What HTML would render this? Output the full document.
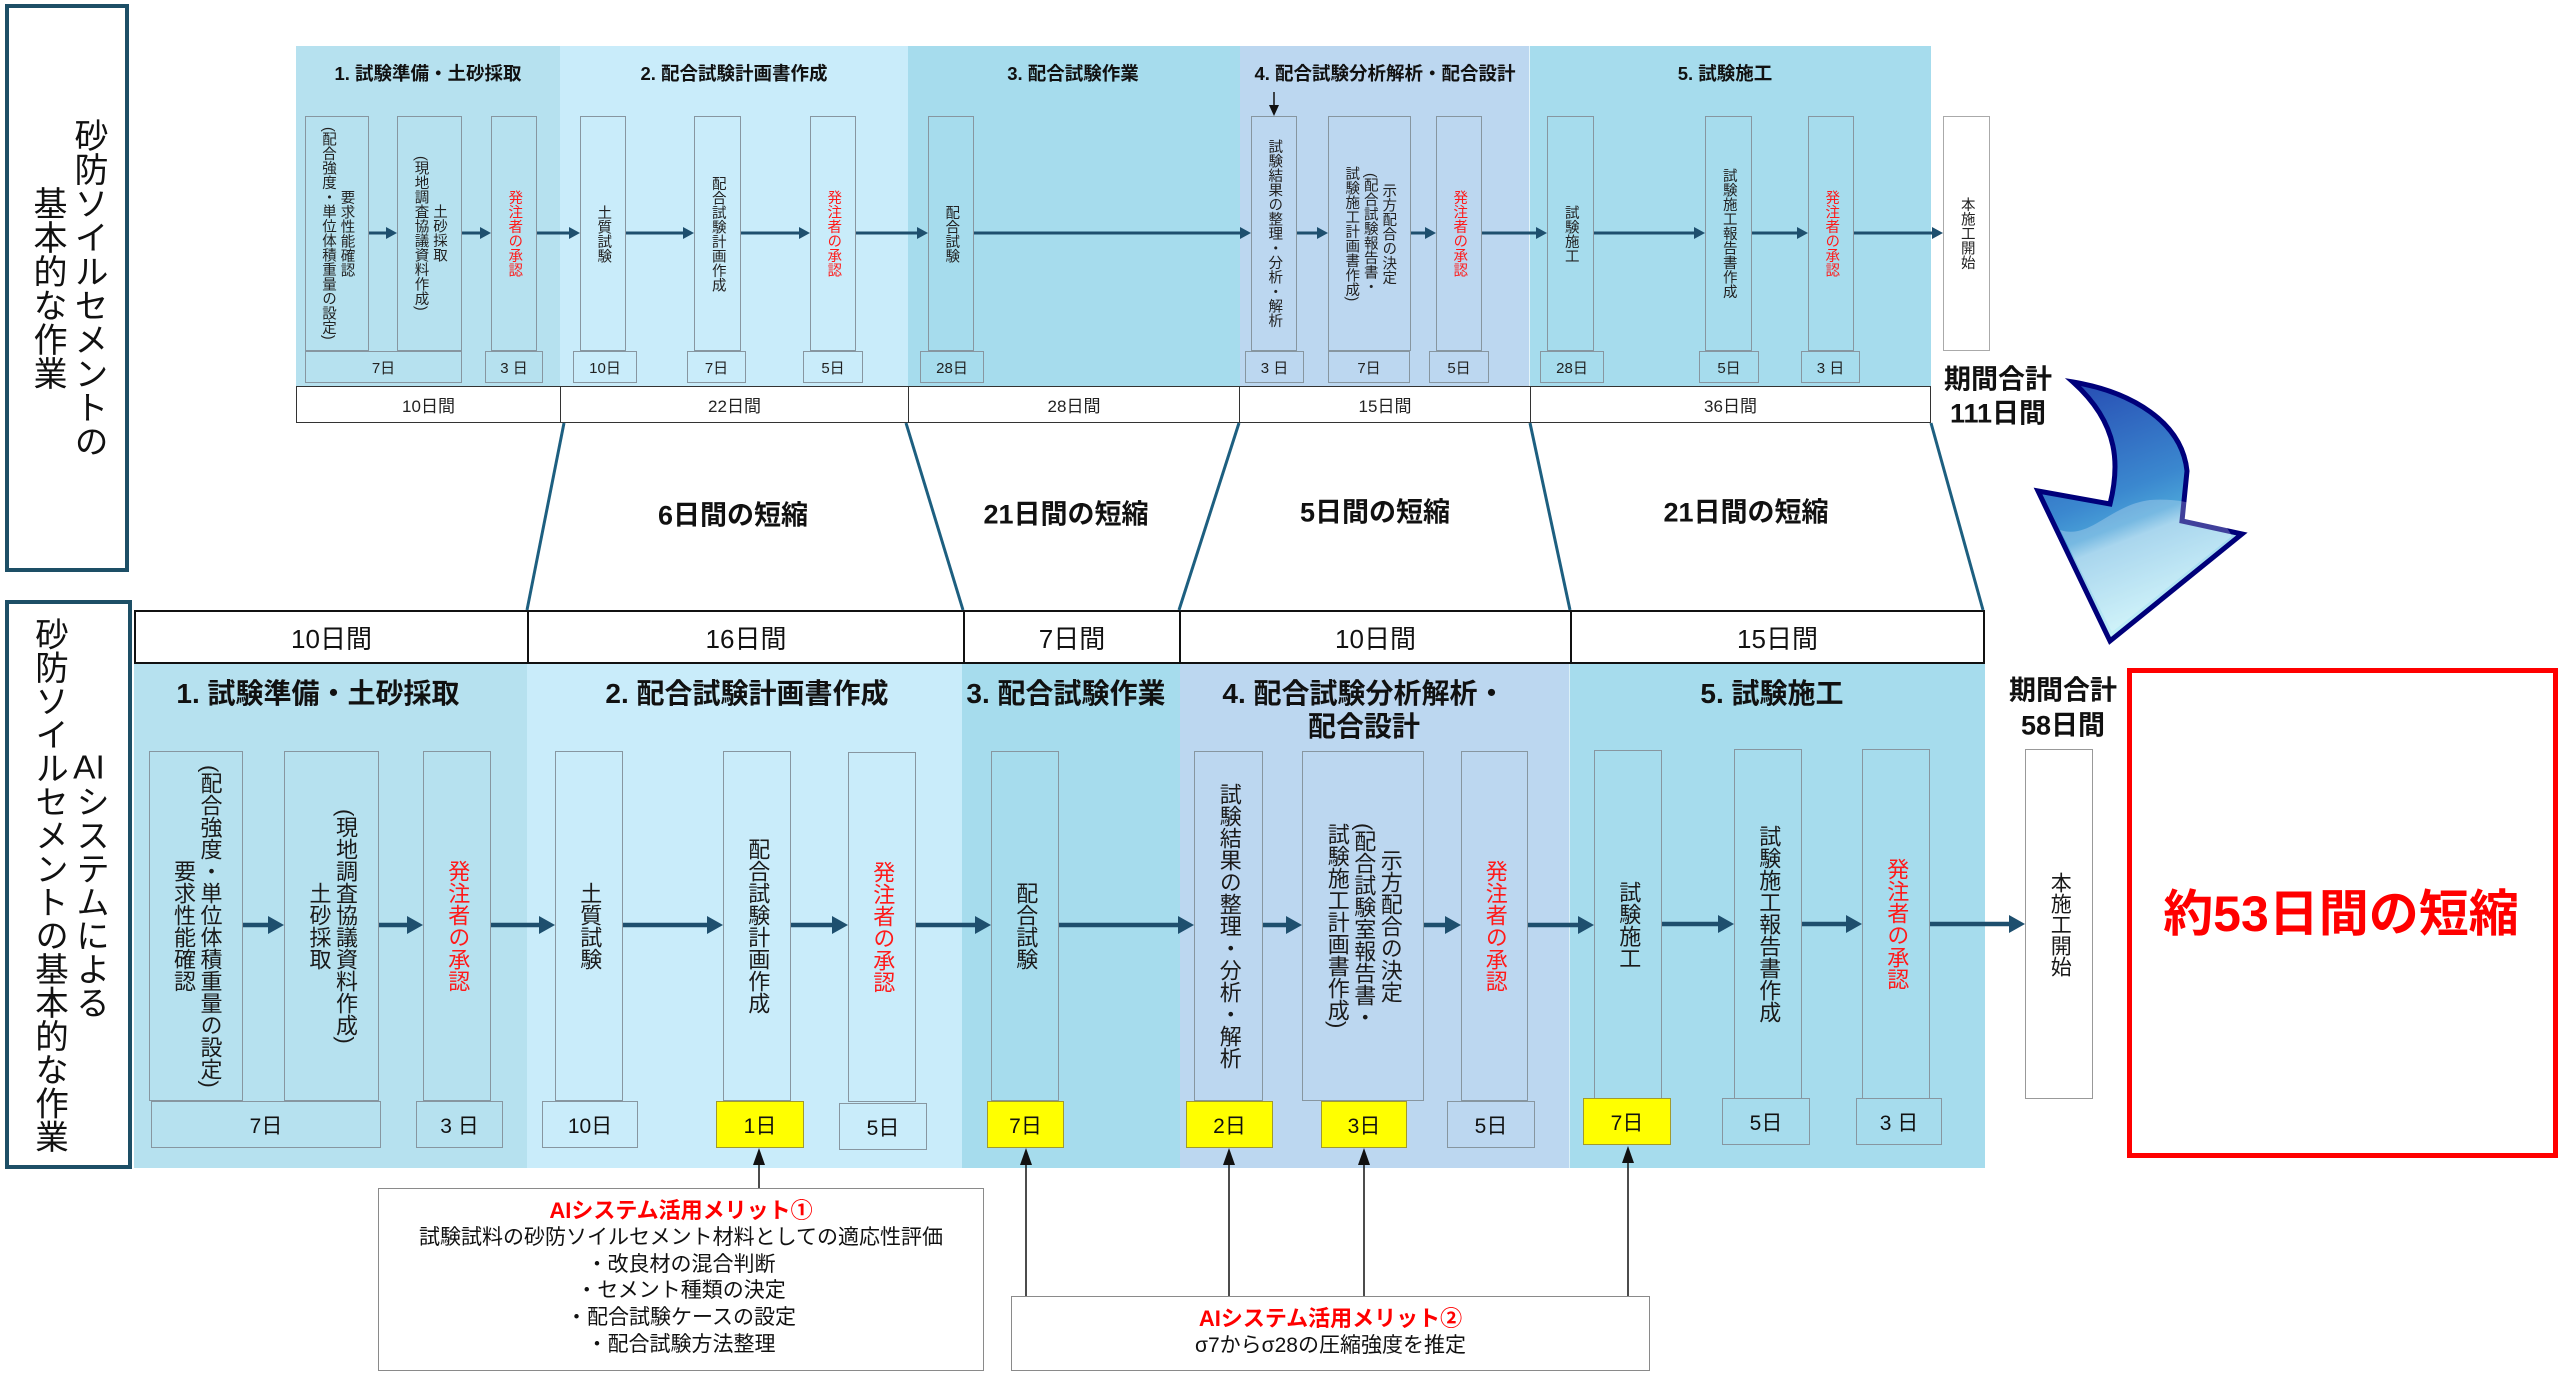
<!DOCTYPE html>
<html lang="ja">
<head>
<meta charset="utf-8">
<style>
*{margin:0;padding:0;box-sizing:border-box}
html,body{width:2560px;height:1375px;overflow:hidden;background:#fff}
body{position:relative;font-family:"Liberation Sans","Noto Sans CJK JP",sans-serif;color:#111}
.a{position:absolute}
.bx{position:absolute;border:1px solid #8796a0;display:flex;align-items:center;justify-content:center}
.v{writing-mode:vertical-rl;text-align:center;white-space:nowrap}
.tv{font-size:14.5px;line-height:18.5px;color:#222}
.bv{font-size:22px;line-height:26.5px;color:#1a1a1a}
.r{color:#ff1a1a}
.dt{position:absolute;top:351px;height:32px;border:1px solid #8796a0;display:flex;align-items:center;justify-content:center;font-size:15px;color:#222}
.db{position:absolute;top:1101px;height:47px;border:1.5px solid #8796a0;display:flex;align-items:center;justify-content:center;font-size:21px;color:#111}
.y{background:#ffff00;border-color:#a09a30}
.ct{position:absolute;transform:translate(-50%,-50%);white-space:nowrap;font-weight:bold}
.tt{position:absolute;top:386px;height:37px;border:1px solid #333;background:#fff;display:flex;align-items:center;justify-content:center;font-size:17px;color:#222}
.bt{position:absolute;top:610px;height:54px;border:2px solid #111;background:#fff;display:flex;align-items:center;justify-content:center;font-size:26px;color:#111}
.lbl{position:absolute;border:4px solid #1d4f66;background:#fff;display:flex;align-items:center;justify-content:center}
.lv{writing-mode:vertical-rl;text-align:center;white-space:nowrap;font-size:34px;line-height:41px;color:#111}
</style>
</head>
<body>

<!-- Left labels -->
<div class="lbl" style="left:5px;top:4px;width:124px;height:568px"><div class="lv">砂防ソイルセメントの<br>基本的な作業</div></div>
<div class="lbl" style="left:5px;top:600px;width:127px;height:569px"><div class="lv" style="font-size:33.5px"><span style="text-combine-upright:all">AI</span>システムによる<br>砂防ソイルセメントの基本的な作業</div></div>

<!-- Top band -->
<div class="a" style="left:296px;top:46px;width:264px;height:340px;background:#b6e1ef"></div>
<div class="a" style="left:560px;top:46px;width:348px;height:340px;background:#c9ecfa"></div>
<div class="a" style="left:908px;top:46px;width:332px;height:340px;background:#a6dced"></div>
<div class="a" style="left:1240px;top:46px;width:289px;height:340px;background:#bcd7f0"></div>
<div class="a" style="left:1529px;top:46px;width:402px;height:340px;background:#a6dced;border-left:1px solid rgba(255,255,255,.7)"></div>

<div class="ct" style="left:428px;top:73px;font-size:18.5px">1. 試験準備・土砂採取</div>
<div class="ct" style="left:734px;top:73px;font-size:18.5px">2. 配合試験計画書作成</div>
<div class="ct" style="left:1073px;top:73px;font-size:18.5px">3. 配合試験作業</div>
<div class="ct" style="left:1385px;top:73px;font-size:18.5px">4. 配合試験分析解析・配合設計</div>
<div class="ct" style="left:1725px;top:73px;font-size:18.5px">5. 試験施工</div>

<!-- Top boxes -->
<div class="bx" style="left:305px;top:116px;width:64px;height:235px"><div class="v tv">要求性能確認<br>(配合強度・単位体積重量の設定)</div></div>
<div class="bx" style="left:397px;top:116px;width:65px;height:235px"><div class="v tv">土砂採取<br>(現地調査協議資料作成)</div></div>
<div class="bx" style="left:491px;top:116px;width:46px;height:235px"><div class="v tv r">発注者の承認</div></div>
<div class="bx" style="left:580px;top:116px;width:46px;height:235px"><div class="v tv">土質試験</div></div>
<div class="bx" style="left:694px;top:116px;width:47px;height:235px"><div class="v tv">配合試験計画作成</div></div>
<div class="bx" style="left:810px;top:116px;width:46px;height:235px"><div class="v tv r">発注者の承認</div></div>
<div class="bx" style="left:928px;top:116px;width:46px;height:235px"><div class="v tv">配合試験</div></div>
<div class="bx" style="left:1251px;top:116px;width:46px;height:235px"><div class="v tv">試験結果の整理・分析・解析</div></div>
<div class="bx" style="left:1328px;top:116px;width:83px;height:235px"><div class="v tv">示方配合の決定<br>(配合試験報告書・<br>試験施工計画書作成)</div></div>
<div class="bx" style="left:1436px;top:116px;width:46px;height:235px"><div class="v tv r">発注者の承認</div></div>
<div class="bx" style="left:1547px;top:116px;width:47px;height:235px"><div class="v tv">試験施工</div></div>
<div class="bx" style="left:1705px;top:116px;width:47px;height:235px"><div class="v tv">試験施工報告書作成</div></div>
<div class="bx" style="left:1808px;top:116px;width:46px;height:235px"><div class="v tv r">発注者の承認</div></div>
<div class="bx" style="left:1943px;top:116px;width:47px;height:235px;background:#fff;border-color:#aaa"><div class="v tv">本施工開始</div></div>

<!-- Top day boxes -->
<div class="dt" style="left:305px;width:157px">7日</div>
<div class="dt" style="left:485px;width:58px">3 日</div>
<div class="dt" style="left:573px;width:64px">10日</div>
<div class="dt" style="left:687px;width:59px">7日</div>
<div class="dt" style="left:803px;width:60px">5日</div>
<div class="dt" style="left:920px;width:64px">28日</div>
<div class="dt" style="left:1245px;width:59px">3 日</div>
<div class="dt" style="left:1328px;width:82px">7日</div>
<div class="dt" style="left:1429px;width:60px">5日</div>
<div class="dt" style="left:1540px;width:64px">28日</div>
<div class="dt" style="left:1699px;width:60px">5日</div>
<div class="dt" style="left:1801px;width:59px">3 日</div>

<!-- Top totals -->
<div class="tt" style="left:296px;width:265px">10日間</div>
<div class="tt" style="left:560px;width:349px">22日間</div>
<div class="tt" style="left:908px;width:332px">28日間</div>
<div class="tt" style="left:1239px;width:292px">15日間</div>
<div class="tt" style="left:1530px;width:401px">36日間</div>

<div class="ct" style="left:1998px;top:377px;font-size:27px">期間合計</div>
<div class="ct" style="left:1998px;top:411px;font-size:27px">111日間</div>

<!-- Reduction labels -->
<div class="ct" style="left:733px;top:513px;font-size:27px">6日間の短縮</div>
<div class="ct" style="left:1066px;top:512px;font-size:27px">21日間の短縮</div>
<div class="ct" style="left:1375px;top:510px;font-size:27px">5日間の短縮</div>
<div class="ct" style="left:1746px;top:510px;font-size:27px">21日間の短縮</div>

<!-- Bottom totals -->
<div class="bt" style="left:134px;width:395px">10日間</div>
<div class="bt" style="left:527px;width:438px">16日間</div>
<div class="bt" style="left:963px;width:218px">7日間</div>
<div class="bt" style="left:1179px;width:393px">10日間</div>
<div class="bt" style="left:1570px;width:415px">15日間</div>

<!-- Bottom band -->
<div class="a" style="left:134px;top:664px;width:393px;height:504px;background:#b6e1ef"></div>
<div class="a" style="left:527px;top:664px;width:435px;height:504px;background:#c9ecfa"></div>
<div class="a" style="left:962px;top:664px;width:218px;height:504px;background:#a6dced"></div>
<div class="a" style="left:1180px;top:664px;width:389px;height:504px;background:#bcd7f0"></div>
<div class="a" style="left:1569px;top:664px;width:416px;height:504px;background:#a6dced;border-left:1px solid rgba(255,255,255,.6)"></div>

<div class="ct" style="left:318px;top:692px;font-size:28px">1. 試験準備・土砂採取</div>
<div class="ct" style="left:747px;top:692px;font-size:28px">2. 配合試験計画書作成</div>
<div class="ct" style="left:1066px;top:692px;font-size:28px">3. 配合試験作業</div>
<div class="ct" style="left:1364px;top:692px;font-size:28px">4. 配合試験分析解析・</div>
<div class="ct" style="left:1364px;top:725px;font-size:28px">配合設計</div>
<div class="ct" style="left:1772px;top:692px;font-size:28px">5. 試験施工</div>

<!-- Bottom boxes -->
<div class="bx" style="left:149px;top:751px;width:94px;height:350px"><div class="v bv">(配合強度・単位体積重量の設定)<br>要求性能確認</div></div>
<div class="bx" style="left:284px;top:751px;width:95px;height:350px"><div class="v bv">(現地調査協議資料作成)<br>土砂採取</div></div>
<div class="bx" style="left:423px;top:751px;width:68px;height:350px"><div class="v bv r">発注者の承認</div></div>
<div class="bx" style="left:555px;top:751px;width:68px;height:350px"><div class="v bv">土質試験</div></div>
<div class="bx" style="left:723px;top:751px;width:68px;height:350px"><div class="v bv">配合試験計画作成</div></div>
<div class="bx" style="left:848px;top:752px;width:68px;height:350px"><div class="v bv r">発注者の承認</div></div>
<div class="bx" style="left:991px;top:751px;width:68px;height:350px"><div class="v bv">配合試験</div></div>
<div class="bx" style="left:1194px;top:751px;width:69px;height:350px"><div class="v bv">試験結果の整理・分析・解析</div></div>
<div class="bx" style="left:1302px;top:751px;width:122px;height:350px"><div class="v bv">示方配合の決定<br>(配合試験室報告書・<br>試験施工計画書作成)</div></div>
<div class="bx" style="left:1461px;top:751px;width:67px;height:350px"><div class="v bv r">発注者の承認</div></div>
<div class="bx" style="left:1594px;top:750px;width:68px;height:349px"><div class="v bv">試験施工</div></div>
<div class="bx" style="left:1734px;top:749px;width:68px;height:350px"><div class="v bv">試験施工報告書作成</div></div>
<div class="bx" style="left:1862px;top:749px;width:68px;height:350px"><div class="v bv r">発注者の承認</div></div>
<div class="bx" style="left:2025px;top:749px;width:68px;height:350px;background:#fff;border-color:#999"><div class="v bv" style="font-size:21px">本施工開始</div></div>

<!-- Bottom day boxes -->
<div class="db" style="left:151px;width:230px">7日</div>
<div class="db" style="left:416px;width:87px">3 日</div>
<div class="db" style="left:542px;width:96px">10日</div>
<div class="db y" style="left:716px;width:88px">1日</div>
<div class="db" style="left:839px;width:88px;top:1103px">5日</div>
<div class="db y" style="left:987px;width:77px">7日</div>
<div class="db y" style="left:1186px;width:87px">2日</div>
<div class="db y" style="left:1321px;width:86px">3日</div>
<div class="db" style="left:1447px;width:88px">5日</div>
<div class="db y" style="left:1583px;width:88px;top:1098px">7日</div>
<div class="db" style="left:1722px;width:88px;top:1098px">5日</div>
<div class="db" style="left:1856px;width:86px;top:1098px">3 日</div>

<div class="ct" style="left:2063px;top:688px;font-size:27px">期間合計</div>
<div class="ct" style="left:2063px;top:723px;font-size:27px">58日間</div>

<!-- Red result box -->
<div class="a" style="left:2127px;top:668px;width:431px;height:490px;border:5px solid #ff0000;background:#fff"></div>
<div class="ct" style="left:2341px;top:910px;font-size:50px;color:#ff0000">約53日間の短縮</div>

<!-- Callouts -->
<div class="a" style="left:378px;top:1188px;width:606px;height:183px;border:1.5px solid #8a8a8a;background:#fff;text-align:center;font-size:21px;line-height:26.8px;padding-top:9px;color:#111">
<div style="color:#ff0000;font-weight:bold;font-size:22px">AIシステム活用メリット①</div>
<div>試験試料の砂防ソイルセメント材料としての適応性評価</div>
<div>・改良材の混合判断</div>
<div>・セメント種類の決定</div>
<div>・配合試験ケースの設定</div>
<div>・配合試験方法整理</div>
</div>
<div class="a" style="left:1011px;top:1296px;width:639px;height:75px;border:1.5px solid #8a8a8a;background:#fff;text-align:center;font-size:21px;line-height:27px;padding-top:8px;color:#111">
<div style="color:#ff0000;font-weight:bold;font-size:22px">AIシステム活用メリット②</div>
<div>σ7からσ28の圧縮強度を推定</div>
</div>

<!-- Lines and arrows -->
<svg class="a" style="left:0;top:0" width="2560" height="1375" viewBox="0 0 2560 1375">
<defs>
<linearGradient id="bg" x1="0" y1="0" x2="0.3" y2="1">
<stop offset="0" stop-color="#2546b0"/>
<stop offset="0.5" stop-color="#3b88cf"/>
<stop offset="0.62" stop-color="#4aa2d8"/>
<stop offset="0.68" stop-color="#8cc8e8"/>
<stop offset="1" stop-color="#c2f0f8"/>
</linearGradient>
</defs>
<g stroke="#1d5f80" stroke-width="3" fill="none">
<line x1="564" y1="423" x2="527" y2="610"/>
<line x1="906" y1="423" x2="963" y2="610"/>
<line x1="1239" y1="423" x2="1179" y2="610"/>
<line x1="1530" y1="423" x2="1570" y2="610"/>
<line x1="1931" y1="423" x2="1983" y2="610"/>
</g>
<g stroke="#1e4f6e" stroke-width="3">
<line x1="369" y1="233" x2="388" y2="233"/>
<line x1="462" y1="233" x2="482" y2="233"/>
<line x1="537" y1="233" x2="571" y2="233"/>
<line x1="626" y1="233" x2="685" y2="233"/>
<line x1="741" y1="233" x2="801" y2="233"/>
<line x1="856" y1="233" x2="919" y2="233"/>
<line x1="974" y1="233" x2="1242" y2="233"/>
<line x1="1297" y1="233" x2="1319" y2="233"/>
<line x1="1411" y1="233" x2="1427" y2="233"/>
<line x1="1482" y1="233" x2="1538" y2="233"/>
<line x1="1594" y1="233" x2="1696" y2="233"/>
<line x1="1752" y1="233" x2="1799" y2="233"/>
<line x1="1854" y1="233" x2="1934" y2="233"/>
</g>
<g fill="#1e4f6e">
<polygon points="397,233 386,227 386,239"/>
<polygon points="491,233 480,227 480,239"/>
<polygon points="580,233 569,227 569,239"/>
<polygon points="694,233 683,227 683,239"/>
<polygon points="810,233 799,227 799,239"/>
<polygon points="928,233 917,227 917,239"/>
<polygon points="1251,233 1240,227 1240,239"/>
<polygon points="1328,233 1317,227 1317,239"/>
<polygon points="1436,233 1425,227 1425,239"/>
<polygon points="1547,233 1536,227 1536,239"/>
<polygon points="1705,233 1694,227 1694,239"/>
<polygon points="1808,233 1797,227 1797,239"/>
<polygon points="1943,233 1932,227 1932,239"/>
</g>
<line x1="1274" y1="92" x2="1274" y2="106" stroke="#111" stroke-width="1.5"/>
<polygon points="1274,116 1269,105 1279,105" fill="#111"/>
<g stroke="#1e4f6e" stroke-width="4.5">
<line x1="243" y1="925" x2="270" y2="925"/>
<line x1="379" y1="925" x2="409" y2="925"/>
<line x1="491" y1="925" x2="541" y2="925"/>
<line x1="623" y1="925" x2="709" y2="925"/>
<line x1="791" y1="925" x2="834" y2="925"/>
<line x1="916" y1="925" x2="977" y2="925"/>
<line x1="1059" y1="925" x2="1180" y2="925"/>
<line x1="1263" y1="925" x2="1288" y2="925"/>
<line x1="1424" y1="925" x2="1447" y2="925"/>
<line x1="1528" y1="925" x2="1580" y2="925"/>
<line x1="1662" y1="924" x2="1720" y2="924"/>
<line x1="1802" y1="924" x2="1848" y2="924"/>
<line x1="1930" y1="924" x2="2011" y2="924"/>
</g>
<g fill="#1e4f6e">
<polygon points="284,925 268,916 268,934"/>
<polygon points="423,925 407,916 407,934"/>
<polygon points="555,925 539,916 539,934"/>
<polygon points="723,925 707,916 707,934"/>
<polygon points="848,925 832,916 832,934"/>
<polygon points="991,925 975,916 975,934"/>
<polygon points="1194,925 1178,916 1178,934"/>
<polygon points="1302,925 1286,916 1286,934"/>
<polygon points="1461,925 1445,916 1445,934"/>
<polygon points="1594,925 1578,916 1578,934"/>
<polygon points="1734,924 1718,915 1718,933"/>
<polygon points="1862,924 1846,915 1846,933"/>
<polygon points="2025,924 2009,915 2009,933"/>
</g>
<g stroke="#111" stroke-width="1.5">
<line x1="759" y1="1188" x2="759" y2="1160"/>
<line x1="1026" y1="1296" x2="1026" y2="1160"/>
<line x1="1229" y1="1296" x2="1229" y2="1160"/>
<line x1="1364" y1="1296" x2="1364" y2="1160"/>
<line x1="1628" y1="1296" x2="1628" y2="1158"/>
</g>
<g fill="#111">
<polygon points="759,1148 753,1165 765,1165"/>
<polygon points="1026,1148 1020,1165 1032,1165"/>
<polygon points="1229,1148 1223,1165 1235,1165"/>
<polygon points="1364,1148 1358,1165 1370,1165"/>
<polygon points="1628,1146 1622,1163 1634,1163"/>
</g>
<path d="M2073,382 C2132,392 2182,422 2187,471 L2182,521 L2242,534 L2110,641 L2038,491 L2110,504 C2119,468 2121,425 2073,382 Z" fill="url(#bg)" stroke="#00007a" stroke-width="5" stroke-linejoin="miter"/>
<path d="M2060,530 C2090,540 2110,505 2150,500 C2185,498 2215,505 2232,536 L2112,632 Z" fill="#ffffff" opacity="0.25"/>
</svg>

</body>
</html>
